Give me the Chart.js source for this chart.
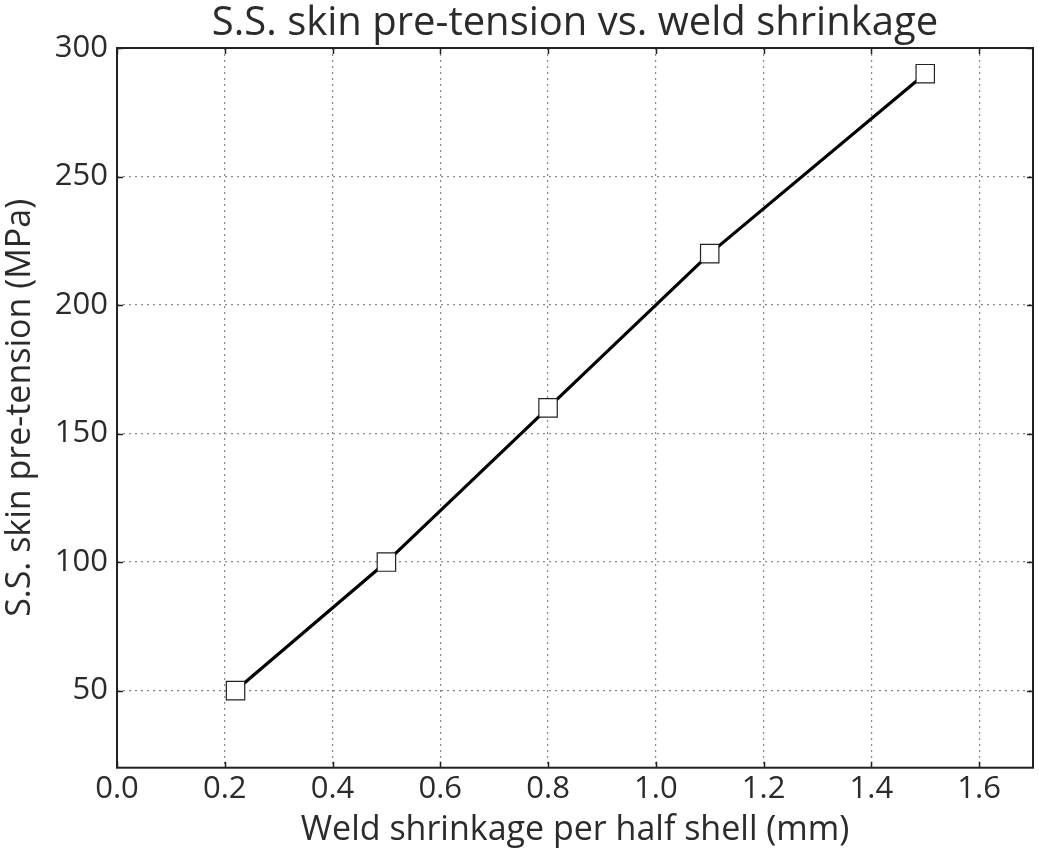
<!DOCTYPE html>
<html>
<head>
<meta charset="utf-8">
<script src="https://cdn.jsdelivr.net/npm/chart.js@4"></script>
<style>
  html, body { margin: 0; padding: 0; background: #fff; }
  #wrap { width: 1039px; height: 850px; }
</style>
</head>
<body>
<div id="wrap"><canvas id="shrinkChart" width="1039" height="850"></canvas></div>
<script>
// Weld shrinkage per half shell (mm) against skin pre-tension (MPa)
const shrinkage = [0.22, 0.5, 0.8, 1.1, 1.5];
const preTension = [50, 100, 160, 220, 290];

const xTicks = [0.0, 0.2, 0.4, 0.6, 0.8, 1.0, 1.2, 1.4, 1.6];
const yTicks = [50, 100, 150, 200, 250, 300];

const FONT = "'Open Sans', sans-serif";
const TEXT = '#2b2b2b';

// closed frame plus short inward tick marks on all four sides
const framePlugin = {
    id: 'frame',
    afterDraw(chart) {
        const { ctx, chartArea: a, scales } = chart;
        ctx.save();
        ctx.strokeStyle = '#222';
        ctx.lineWidth = 1.5;
        ctx.setLineDash([]);
        ctx.beginPath();
        xTicks.forEach(v => {
            const px = Math.round(scales.x.getPixelForValue(v)) + 0.5;
            ctx.moveTo(px, a.bottom); ctx.lineTo(px, a.bottom - 6);
            ctx.moveTo(px, a.top); ctx.lineTo(px, a.top + 6);
        });
        yTicks.forEach(v => {
            const py = Math.round(scales.y.getPixelForValue(v)) + 0.5;
            ctx.moveTo(a.left, py); ctx.lineTo(a.left + 6, py);
            ctx.moveTo(a.right, py); ctx.lineTo(a.right - 6, py);
        });
        ctx.stroke();
        ctx.lineWidth = 2;
        ctx.strokeRect(a.left, a.top, a.right - a.left, a.bottom - a.top);
        ctx.restore();
    }
};

const config = {
    type: 'scatter',
    data: {
        datasets: [{
            data: shrinkage.map((x, i) => ({ x: x, y: preTension[i] })),
            showLine: true,
            borderColor: '#000',
            borderWidth: 3.2,
            pointStyle: 'rect',
            pointRadius: 13,
            pointBorderWidth: 1.2,
            pointBorderColor: '#222',
            pointBackgroundColor: '#fff'
        }]
    },
    options: {
        responsive: false,
        animation: false,
        layout: { autoPadding: false, padding: { left: 0, right: 6, top: 0, bottom: 0 } },
        plugins: {
            legend: { display: false },
            tooltip: { enabled: false },
            title: {
                display: true,
                fullSize: false,
                text: 'S.S. skin pre-tension vs. weld shrinkage',
                color: TEXT,
                font: { family: FONT, size: 40, weight: 'normal', lineHeight: 1.2 },
                padding: { top: 0, bottom: 0 }
            }
        },
        scales: {
            x: {
                type: 'linear',
                min: 0,
                max: 1.7,
                afterBuildTicks: s => { s.ticks = xTicks.map(v => ({ value: v })); },
                afterFit: s => { s.paddingRight = 0; },
                ticks: {
                    color: TEXT,
                    font: { family: FONT, size: 31, lineHeight: 1.2 },
                    padding: 3,
                    maxRotation: 0,
                    callback: v => v.toFixed(1)
                },
                grid: { color: '#888', lineWidth: 1.2, drawTicks: false },
                border: { display: false, dash: [2, 4] },
                title: {
                    display: true,
                    text: 'Weld shrinkage per half shell (mm)',
                    color: TEXT,
                    font: { family: FONT, size: 34, lineHeight: 1.15 },
                    padding: { top: 0, bottom: 0 }
                }
            },
            y: {
                type: 'linear',
                min: 20,
                max: 300,
                afterBuildTicks: s => { s.ticks = yTicks.map(v => ({ value: v })); },
                afterFit: s => { s.width = 117; },
                ticks: {
                    color: TEXT,
                    font: { family: FONT, size: 31 },
                    padding: 9
                },
                grid: { color: '#888', lineWidth: 1.2, drawTicks: false },
                border: { display: false, dash: [2, 4] },
                title: {
                    display: true,
                    text: 'S.S. skin pre-tension (MPa)',
                    color: TEXT,
                    font: { family: FONT, size: 34, lineHeight: 1.2 },
                    padding: { top: 0, bottom: 0 }
                }
            }
        }
    },
    plugins: [framePlugin]
};

window.onload = function () {
    const ctx = document.getElementById('shrinkChart').getContext('2d');
    new Chart(ctx, config);
};
</script>
</body>
</html>
